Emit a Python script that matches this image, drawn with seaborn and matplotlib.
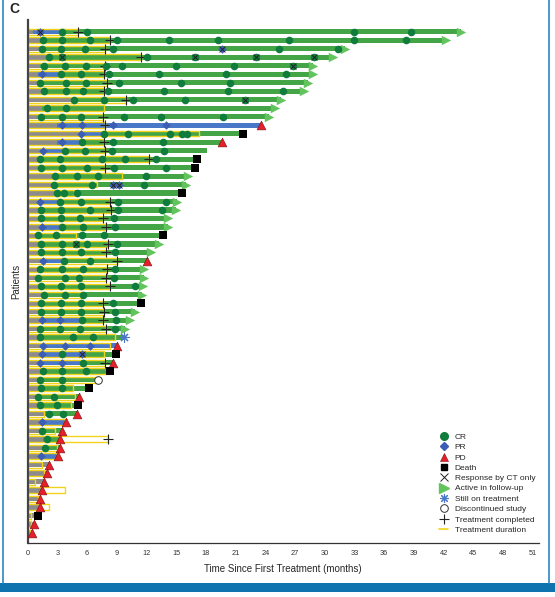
import numpy as np
import pandas as pd
import matplotlib
matplotlib.use('Agg')
import matplotlib.pyplot as plt
from matplotlib.lines import Line2D
from matplotlib.patches import Rectangle
import seaborn as sns

# swimmer data, one entry per patient (top to bottom), times in months
end_time = [44.2, 42.6, 32.4, 31.2, 29.2, 29.2, 28.7, 28.3, 26.0, 25.4,
            24.8, 23.6, 21.7, 19.6, 18.1, 17.1, 16.9, 16.6, 16.4, 15.6,
            15.5, 15.4, 14.6, 14.6, 13.7, 13.7, 12.9, 12.0, 12.1, 12.1,
            12.0, 11.9, 11.4, 11.2, 10.7, 10.2, 9.7, 9.0, 8.9, 8.6,
            8.3, 7.1, 6.2, 5.2, 5.1, 5.0, 3.9, 3.5, 3.3, 3.3,
            3.1, 2.15, 1.9, 1.6, 1.4, 1.2, 1.2, 1.0, 0.64, 0.47]
# A active in follow-up, D death, P PD, S still on treatment, O discontinued, N none
end_kind = ['A', 'A', 'A', 'A', 'A', 'A', 'A', 'A', 'A', 'A',
            'A', 'P', 'D', 'P', 'N', 'D', 'D', 'A', 'A', 'D',
            'A', 'A', 'A', 'A', 'D', 'A', 'A', 'P', 'A', 'A',
            'A', 'A', 'D', 'A', 'A', 'A', 'S', 'P', 'D', 'P',
            'D', 'O', 'D', 'P', 'D', 'P', 'P', 'P', 'P', 'P',
            'P', 'P', 'P', 'P', 'P', 'P', 'P', 'D', 'P', 'P']
gray_end = [0.5, 1.2, 1.1, 2.0, 1.2, 1.0, 1.0, 1.4, 4.4, 1.4,
            1.0, 3.0, 5.2, 3.0, 1.2, 1.0, 1.0, 2.6, 2.5, 2.8,
            1.0, 1.0, 1.0, 1.2, 0.8, 1.0, 1.0, 1.2, 1.0, 0.8,
            1.0, 1.3, 1.0, 1.0, 1.2, 1.0, 1.0, 1.2, 1.2, 1.0,
            1.3, 1.0, 1.0, 0.8, 1.0, 1.6, 1.2, 1.2, 1.5, 1.5,
            1.1, 2.15, 1.9, 1.6, 1.4, 1.2, 1.2, 1.0, 0.64, 0.47]
blue_end = [3.5, 0, 0, 0, 0, 3.4, 0, 0, 0, 0,
            0, 23.6, 7.7, 5.5, 3.8, 0, 0, 0, 0, 0,
            3.3, 0, 0, 3.5, 0, 0, 0, 3.7, 0, 0,
            0, 0, 0, 0, 5.5, 0, 0, 9.0, 5.6, 5.6,
            0, 0, 0, 0, 0, 0, 3.9, 0, 0, 0,
            3.1, 0, 0, 0, 0, 0, 0, 0, 0, 0]
treat_end = [5.1, 8.3, 7.8, 11.4, 7.8, 7.7, 8.0, 7.7, 9.9, 7.7,
             7.6, 7.8, 17.3, 7.7, 7.8, 12.3, 7.8, 9.5, 7.0, 4.7,
             8.3, 8.4, 7.6, 7.9, 4.9, 8.1, 7.9, 9.0, 8.0, 7.9,
             8.3, 5.6, 7.6, 7.7, 7.6, 7.9, 8.8, 8.3, 7.7, 7.8,
             8.0, 7.0, 4.6, 4.8, 4.4, 1.6, 3.8, 2.8, 8.1, 3.0,
             3.0, 1.4, 1.6, 0.75, 3.8, 1.0, 2.15, 0.3, 0.3, 0.2]
treat_done = [1, 1, 1, 1, 1, 1, 1, 1, 1, 0,
              1, 1, 0, 1, 1, 1, 1, 0, 0, 0,
              1, 1, 1, 1, 0, 1, 1, 1, 1, 1,
              1, 0, 1, 1, 1, 1, 0, 0, 0, 1,
              0, 0, 0, 0, 0, 0, 0, 0, 1, 0,
              0, 0, 0, 0, 0, 0, 0, 0, 0, 0]
cr_times = [[3.5, 6.0, 33.0, 38.7], [1.5, 3.5, 6.3, 9.0, 14.3, 19.2, 26.4, 33.0, 38.2],
            [1.4, 3.4, 5.8, 8.6, 25.4, 31.3], [2.2, 3.5, 12.0, 16.9, 23.1, 28.9],
            [1.6, 3.8, 5.9, 7.9, 9.5, 15.0, 20.8, 26.8], [3.4, 5.4, 8.2, 13.3, 20.0, 26.1],
            [1.2, 3.9, 5.9, 9.2, 15.5, 20.4], [1.6, 3.9, 5.6, 8.1, 13.8, 20.2, 25.8],
            [4.7, 7.7, 10.6, 15.9, 21.9], [2.0, 3.9],
            [1.3, 3.5, 5.4, 9.7, 13.5, 19.7], [],
            [7.7, 10.1, 14.4, 15.6, 16.1], [5.5, 8.6, 13.7],
            [3.8, 5.8, 8.5, 13.8], [1.2, 3.3, 7.5, 9.8, 13.0],
            [1.3, 3.5, 6.0, 8.7, 14.0], [2.8, 5.0, 7.1, 11.9],
            [2.7, 6.5, 11.7], [3.0, 3.7, 5.0],
            [3.3, 5.4, 9.1, 14.0], [1.3, 3.4, 6.3, 9.1, 13.6],
            [1.3, 3.4, 5.3, 8.7], [3.5, 5.6, 8.8],
            [1.0, 2.9, 5.5, 7.7], [1.3, 3.5, 4.9, 6.0, 9.0],
            [1.3, 3.5, 5.4, 8.8], [3.7, 6.3],
            [1.2, 3.5, 5.6, 8.8], [1.0, 3.8, 5.2, 8.7],
            [1.3, 3.4, 5.4, 10.8], [1.6, 3.8, 5.6],
            [1.3, 3.4, 5.4, 8.6], [1.3, 3.4, 5.4, 8.8],
            [5.5, 8.9], [1.2, 3.3, 5.3, 8.8],
            [1.2, 4.6, 6.6], [],
            [3.5], [5.6],
            [1.5, 3.5, 5.9], [1.2, 3.5],
            [1.3, 3.5], [1.0, 2.7],
            [1.2, 3.0], [2.2, 3.6],
            [], [1.4], [1.9], [1.7], [],
            [], [], [], [], [], [], [], [], []]
pr_times = [[1.2], [], [19.6], [], [], [1.4], [], [], [], [],
            [], [3.5, 5.5, 8.6, 14.0], [5.4], [3.5], [1.5], [], [], [], [8.6, 9.2], [],
            [1.2], [], [], [1.4], [], [], [], [1.5], [], [],
            [], [], [], [], [1.4, 3.3], [], [], [1.5, 3.8, 6.3], [1.4, 5.5], [1.2, 3.5],
            [], [], [], [], [], [], [1.4], [], [], [],
            [1.3], [], [], [], [], [], [], [], [], []]
ct_only = {0: [1.2], 2: [19.6], 3: [3.5, 16.9, 23.1, 28.9], 4: [26.8], 8: [21.9],
           18: [8.6, 9.2], 25: [4.9], 38: [5.5]}

c_gray = '#8c8c8c'
c_green = '#43a545'
c_arrow = '#62c45c'
c_blue = '#4a78c8'
c_yellow = '#f2d21b'
c_cr = '#117d3d'
c_pr = '#3b5db3'
c_pd = '#e5202a'

sns.set_style('white')
plt.rcParams['font.family'] = ['Liberation Sans', 'DejaVu Sans']

fig = plt.figure(figsize=(5.55, 5.97), dpi=100)
ax = fig.add_axes([0.0499, 0.0899, 0.9205, 0.8766])

n = len(end_time)
rows = np.arange(n)
bar_h = 0.6

# bar segments
for i in rows:
    e = end_time[i]
    stop = e - 0.4 if end_kind[i] == 'A' else e
    g = min(gray_end[i], stop)
    ax.barh(i, g, left=0, height=bar_h, color=c_gray, linewidth=0, zorder=1)
    b = blue_end[i]
    if b > g:
        ax.barh(i, min(b, stop) - g, left=g, height=bar_h, color=c_blue, linewidth=0, zorder=1)
        g = min(b, stop)
    if stop > g:
        ax.barh(i, stop - g, left=g, height=bar_h, color=c_green, linewidth=0, zorder=1)
    ax.add_patch(Rectangle((0, i - 0.34), treat_end[i], 0.68, fill=False,
                           edgecolor=c_yellow, linewidth=1.0, zorder=2))

# marker table
recs = []
for i in rows:
    for t in cr_times[i]:
        recs.append((t, i, 'CR'))
    for t in pr_times[i]:
        recs.append((t, i, 'PR'))
    for t in ct_only.get(i, []):
        recs.append((t, i, 'CT'))
    if treat_done[i]:
        recs.append((treat_end[i], i, 'TC'))
    k = end_kind[i]
    if k == 'A':
        recs.append((end_time[i] - 0.4, i, 'ACT'))
    elif k == 'D':
        recs.append((end_time[i], i, 'DEATH'))
    elif k == 'P':
        recs.append((end_time[i], i, 'PD'))
    elif k == 'S':
        recs.append((end_time[i], i, 'STILL'))
    elif k == 'O':
        recs.append((end_time[i], i, 'OFF'))
marks = pd.DataFrame(recs, columns=['time', 'patient', 'kind'])

styles = {
    'ACT': dict(marker='>', s=46, color=c_arrow, linewidth=0),
    'TC': dict(marker='+', s=44, color='#222222', linewidth=0.8),
    'CR': dict(marker='o', s=30, color=c_cr, linewidth=0),
    'PR': dict(marker='D', s=19, color=c_pr, linewidth=0),
    'CT': dict(marker='x', s=18, color='#222222', linewidth=0.7),
    'PD': dict(marker='^', s=40, color=c_pd, edgecolor='#7a1010', linewidth=0.4),
    'DEATH': dict(marker='s', s=32, color='black', linewidth=0),
    'STILL': dict(marker=(8, 2, 0), s=44, color=c_blue, linewidth=0.8),
    'OFF': dict(marker='o', s=30, facecolor='white', edgecolor='#333333', linewidth=0.7),
}
for z, (kind, st) in enumerate(styles.items()):
    sub = marks[marks['kind'] == kind]
    if len(sub):
        sns.scatterplot(data=sub, x='time', y='patient', ax=ax, zorder=3 + z,
                        legend=False, **st)

ax.set_xlim(0, 51.6)
ax.set_ylim(n - 1 + 1.26, -1.38)
ax.set_xticks(np.arange(0, 52, 3))
ax.set_yticks([])
ax.tick_params(axis='x', direction='inout', length=3.5, width=0.8, labelsize=5.3,
               pad=3, colors='#333333')
for sp in ['top', 'right']:
    ax.spines[sp].set_visible(False)
ax.spines['left'].set_linewidth(1.6)
ax.spines['left'].set_color('#444444')
ax.spines['bottom'].set_linewidth(0.9)
ax.spines['bottom'].set_color('#333333')
ax.set_xlabel('Time Since First Treatment (months)', fontsize=7, labelpad=5)
ax.set_ylabel('Patients', fontsize=7, labelpad=5)

handles = [
    Line2D([], [], marker='o', ls='', color=c_cr, markersize=5.5),
    Line2D([], [], marker='D', ls='', color=c_pr, markersize=4.2),
    Line2D([], [], marker='^', ls='', color=c_pd, markeredgecolor='#7a1010',
           markeredgewidth=0.4, markersize=5.5),
    Line2D([], [], marker='s', ls='', color='black', markersize=5),
    Line2D([], [], marker='x', ls='', color='#222222', markersize=5.5, markeredgewidth=0.7),
    Line2D([], [], marker='>', ls='', color=c_arrow, markersize=6.5),
    Line2D([], [], marker=(8, 2, 0), ls='', color=c_blue, markersize=6.5, markeredgewidth=0.8),
    Line2D([], [], marker='o', ls='', markerfacecolor='white', markeredgecolor='#333333',
           markersize=5.5, markeredgewidth=0.7),
    Line2D([], [], marker='+', ls='', color='#222222', markersize=6.5, markeredgewidth=0.8),
    Line2D([], [], color=c_yellow, linewidth=1.2),
]
labels = ['CR', 'PR', 'PD', 'Death', 'Response by CT only', 'Active in follow-up',
          'Still on treatment', 'Discontinued study', 'Treatment completed',
          'Treatment duration']
ax.legend(handles, labels, loc='upper left', bbox_to_anchor=(439 / 555, 1 - 433 / 597),
          bbox_transform=fig.transFigure, frameon=False, fontsize=6,
          handlelength=1.1, handletextpad=0.8, labelspacing=0.3, borderpad=0,
          borderaxespad=0)

# panel letter and journal frame
fig.text(14 / 555, 1 - 9 / 597, 'C', fontsize=10, fontweight='bold', va='center', ha='center')
fig.add_artist(Line2D([3 / 555, 3 / 555], [1 - 583 / 597, 1], transform=fig.transFigure,
                      color='#2a86c4', linewidth=1.2))
fig.add_artist(Line2D([549 / 555, 549 / 555], [1 - 583 / 597, 1], transform=fig.transFigure,
                      color='#2a86c4', linewidth=1.2))
fig.add_artist(Rectangle((0, 1 - 592 / 597), 1, 9 / 597, transform=fig.transFigure,
                         color='#0f73b0', linewidth=0))

fig.savefig('out.png', dpi=100)
